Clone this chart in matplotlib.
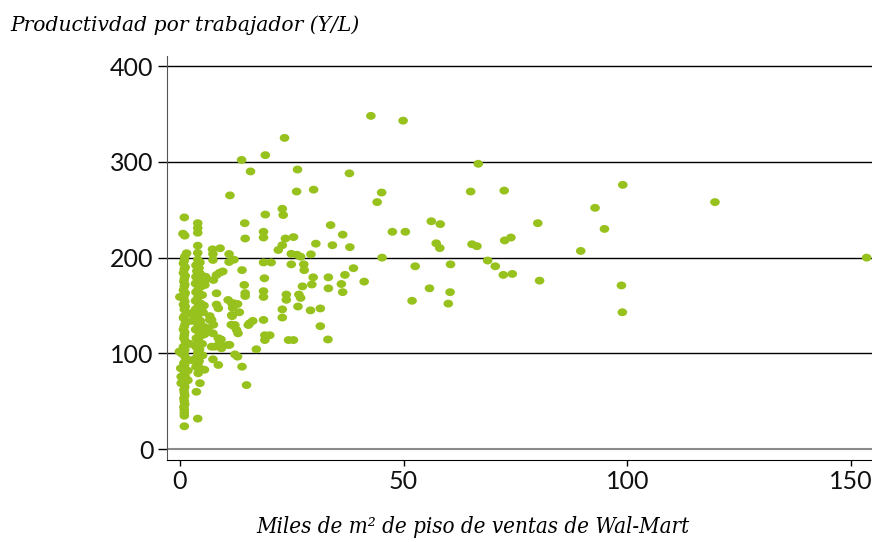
import matplotlib
matplotlib.use("Agg")
import matplotlib.pyplot as plt
from matplotlib.path import Path
from matplotlib.transforms import Affine2D

# sparse stores, more than 15 thousand m2
wide = [
    (42.7, 348), (49.9, 343), (23.4, 325), (19.1, 307), (15.8, 290), (26.3, 292),
    (37.9, 288), (26.1, 269), (29.9, 271), (45.1, 268), (44.1, 258), (66.7, 298),
    (65.0, 269), (72.5, 270), (99.0, 276), (119.6, 258), (92.8, 252), (94.9, 230),
    (56.2, 238), (58.2, 235), (47.5, 227), (50.4, 227), (80.0, 236), (57.3, 215),
    (58.1, 210), (65.3, 214), (66.4, 212), (72.6, 218), (74.0, 221), (89.6, 207),
    (45.2, 200), (153.5, 200), (52.6, 191), (60.5, 193), (68.8, 197), (70.5, 191),
    (72.3, 182), (74.3, 183), (80.4, 176), (98.7, 171), (98.9, 143), (55.8, 168),
    (60.4, 164), (51.9, 155), (60.0, 152),
    (19.1, 245), (22.9, 251), (23.1, 244.5), (33.7, 234), (36.4, 224), (18.7, 227),
    (18.7, 221), (23.6, 220), (25.4, 221.5), (22.0, 208), (22.9, 213), (30.4, 214.6),
    (34.1, 213), (38.0, 211), (24.9, 204), (27.0, 201), (26.2, 203), (29.3, 203.5),
    (18.7, 195), (20.4, 195), (24.9, 193), (27.7, 193), (27.8, 187), (38.8, 189),
    (36.9, 182), (36.1, 172.5), (41.2, 175), (29.8, 179.5), (29.5, 172), (27.4, 170),
    (33.2, 179.5), (33.2, 168), (36.4, 164), (18.9, 178.5), (18.7, 165), (18.7, 159),
    (23.8, 161.5), (23.8, 156), (26.6, 161.5), (27.0, 158), (26.4, 149), (29.2, 145),
    (31.4, 147), (22.9, 146), (22.9, 137.5), (18.7, 135), (31.4, 128.5), (33.1, 114.6),
    (24.3, 114), (25.4, 114), (20.1, 119), (19.0, 119), (19.0, 114), (17.1, 104.4),
    (15.6, 131.5), (15.3, 129.7), (16.3, 134),
]

# stores between 5 and 15 thousand m2
mid = [
    (13.8, 302), (11.2, 265), (14.5, 236), (14.6, 220), (7.3, 208.7), (9.0, 209.8),
    (7.4, 203.8), (7.4, 197.6), (11.0, 203.8), (12.1, 197.9), (11.0, 195.5), (13.9, 187),
    (8.9, 184.3), (8.2, 182), (7.5, 176.7), (9.6, 185.6), (5.6, 171.5), (14.4, 171.5),
    (14.6, 163), (14.6, 160), (8.2, 162.8), (10.8, 155.8), (11.6, 152.4), (12.1, 152.4),
    (11.8, 147.5), (12.9, 151.6), (8.2, 151), (8.6, 147.2), (13.3, 143), (11.7, 139),
    (6.7, 139), (7.1, 135), (6.7, 135), (6.3, 126.3), (7.5, 130), (11.6, 140),
    (12.3, 129.7), (12.7, 124.5), (13.0, 121), (11.5, 130), (12.1, 128.5), (7.4, 121),
    (8.6, 115.9), (8.9, 112.3), (7.8, 107.1), (7.1, 107.1), (9.3, 105.4), (10.8, 108.9),
    (11.1, 109), (12.3, 99), (12.9, 96.7), (7.4, 93.9), (8.6, 88), (13.9, 86.2),
    (14.9, 67), (5.5, 83), (9.2, 114.6), (9.4, 107.6),
]

# column of small stores near 1
col_one = [
    (1.0, 242), (0.7, 225), (1.1, 223), (1.5, 204.6), (1.1, 201), (1.0, 197),
    (0.8, 194), (1.2, 190), (1.0, 188), (0.8, 184), (1.2, 181), (1.0, 178),
    (0.9, 175), (1.1, 172), (1.0, 170), (0.8, 166), (1.2, 163), (1.0, 161),
    (0.0, 159), (0.9, 157), (1.1, 154), (0.8, 151), (1.2, 149), (1.0, 146),
    (2.4, 142), (1.0, 139), (0.8, 137), (2.6, 134), (1.2, 131), (1.0, 128),
    (0.8, 125), (1.1, 122), (1.0, 119), (0.9, 116), (1.2, 113), (2.3, 110),
    (0.8, 107), (1.1, 104), (-0.1, 102), (0.4, 100), (1.0, 99), (1.2, 96),
    (2.6, 93), (0.9, 90), (1.1, 88), (0.8, 85), (0.2, 84.5), (1.8, 82),
    (1.0, 79), (1.2, 76), (0.3, 75.8), (0.9, 73), (1.8, 72), (1.1, 71),
    (0.3, 69), (1.0, 68), (1.1, 65), (0.9, 62), (1.0, 59), (1.1, 56),
    (0.9, 53), (1.0, 50), (1.1, 47), (0.9, 44), (1.0, 41), (1.0, 38),
    (1.0, 35), (1.0, 24),
]

# column of small stores near 4
col_four = [
    (4.0, 236), (4.0, 231), (4.0, 226), (4.0, 212.5), (4.0, 205), (4.0, 198),
    (4.5, 195), (3.6, 192), (4.3, 189), (3.8, 186), (4.6, 183), (3.6, 180),
    (4.9, 178), (4.0, 176), (3.5, 173), (4.8, 170), (4.1, 167), (3.6, 164),
    (5.0, 161), (4.0, 158), (3.5, 155), (4.7, 152), (4.1, 149), (3.5, 146),
    (5.2, 143), (4.0, 140), (3.6, 137), (4.6, 134), (4.0, 131), (5.3, 128),
    (3.5, 125), (4.3, 122), (4.9, 119), (3.7, 116), (4.2, 113), (5.0, 110),
    (3.6, 107), (4.4, 104), (4.0, 101), (5.1, 98), (3.6, 95), (4.3, 92),
    (4.0, 89), (3.6, 86), (4.5, 84.5), (4.1, 79.3), (4.5, 69), (3.7, 60),
    (4.0, 32), (5.6, 176), (5.4, 150), (5.5, 120), (5.8, 180),
]

x_ticks = [0, 50, 100, 150]
y_ticks = [0, 100, 200, 300, 400]

title_text = "Productivdad por trabajador (Y/L)"
xlabel_text = "Miles de m\u00b2 de piso de ventas de Wal-Mart"

point_color = "#97c21e"
oval = Path.unit_circle().transformed(Affine2D().scale(1.0, 0.82))

fig = plt.figure(figsize=(8.72, 5.42), dpi=100)
ax = fig.add_axes([0.191, 0.1513, 0.809, 0.7454])

for group in (wide, mid, col_one, col_four):
    xs = [p[0] for p in group]
    ys = [p[1] for p in group]
    ax.scatter(xs, ys, s=48, marker=oval, color=point_color, edgecolors="none",
               zorder=3)

ax.set_xlim(-2.97, 154.7)
ax.set_ylim(-11.2, 410.5)

ax.set_yticks(y_ticks)
ax.set_xticks(x_ticks)
ax.yaxis.grid(True, color="black", linewidth=1.0)
ax.get_ygridlines()[0].set_color("#8a8a8a")
ax.get_ygridlines()[0].set_linewidth(1.5)
ax.set_axisbelow(True)

for side in ("top", "right"):
    ax.spines[side].set_visible(False)
ax.spines["left"].set_color("#555555")
ax.spines["bottom"].set_color("black")

tick_font = {"family": "Lato", "weight": "normal", "size": 18, "color": "#111111"}
ax.set_yticklabels([str(v) for v in y_ticks], fontdict=tick_font)
ax.set_xticklabels([str(v) for v in x_ticks], fontdict=tick_font)
ax.tick_params(axis="y", length=6.5, width=1, color="black", pad=3)
ax.tick_params(axis="x", length=4.5, width=1, color="black", pad=3)

fig.text(10 / 872, 1 - 25 / 542, title_text, family="DejaVu Serif",
         style="italic", size=14.6, va="center", ha="left")
fig.text(473 / 872, 1 - 527 / 542, xlabel_text, family="DejaVu Serif",
         style="italic", stretch="condensed", size=16, va="center", ha="center")

fig.savefig("out.png", dpi=100)
